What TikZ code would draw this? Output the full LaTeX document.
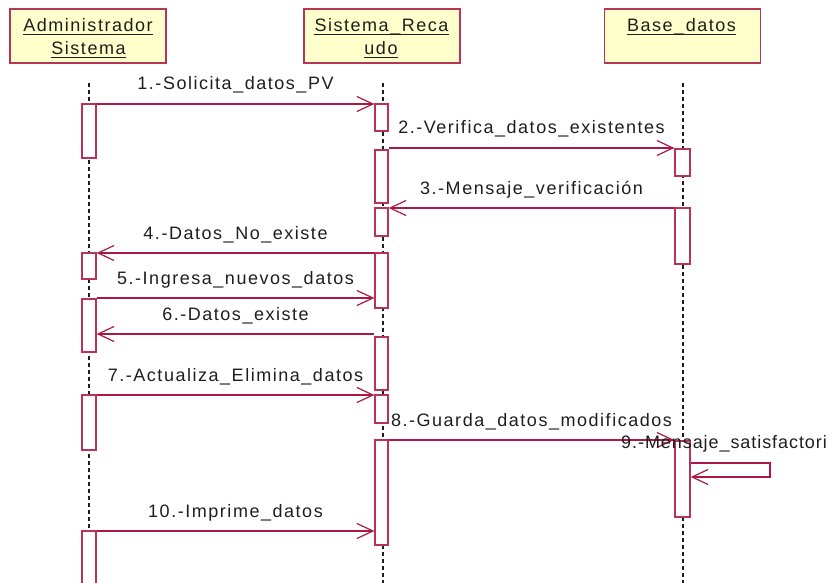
\documentclass[tikz,border=0pt]{standalone}
\usepackage{fontspec}
\setmainfont{Liberation Sans}[LetterSpace=8.5]
\usetikzlibrary{arrows.meta}
\definecolor{umlred}{RGB}{170,25,70}
\definecolor{boxred}{RGB}{185,50,90}
\definecolor{headfill}{RGB}{255,255,204}
\definecolor{inkc}{RGB}{30,30,30}
\begin{document}
\begin{tikzpicture}[x=1pt,y=-1pt,
  every node/.style={font=\fontsize{18}{21}\selectfont, text=inkc},
  headbox/.style={draw=boxred, line width=1.6pt, fill=headfill,
    minimum width=156pt, minimum height=54pt, inner sep=0pt},
  hdtext/.style={anchor=base, inner sep=0pt},
  ul/.style={draw=inkc, line width=1.2pt},
  life/.style={draw=inkc, line width=1.3pt, dash pattern=on 4pt off 3pt},
  actbox/.style={draw=boxred, line width=1.3pt, fill=white, inner sep=0pt},
  actA/.style={actbox, minimum width=14pt},
  actS/.style={actbox, minimum width=13pt},
  actB/.style={actbox, minimum width=15pt},
  msg/.style={draw=umlred, line width=1.2pt,
    -{Straight Barb[length=16pt, width=15pt, line width=1.2pt]}},
  lbl/.style={anchor=base, yshift=14pt, inner sep=0pt}]

\useasboundingbox (0,0) rectangle (833,583);
\clip (0,0) rectangle (833,583);

% participants
\node[headbox] (admin) at (88,36) {};
\node[headbox] (sist)  at (382,36) {};
\node[headbox] (base)  at (682.5,36) {};

\node[hdtext] (adminL1) at (88,32) {Administrador\ };
\node[hdtext] (adminL2) at (88.5,55) {Sistema};
\node[hdtext] (sistL1)  at (381.5,32) {Sistema\_Reca};
\node[hdtext] (sistL2)  at (381,55) {udo};
\node[hdtext] (baseL1)  at (681.5,32) {Base\_datos};

\foreach \t in {adminL1,adminL2,sistL1,sistL2,baseL1}
  \draw[ul] ([yshift=-2.5pt]\t.base west) -- ([yshift=-2.5pt]\t.base east);

% lifelines
\coordinate (lifeAtop) at (89,83);   \coordinate (lifeAbot) at (89,583);
\coordinate (lifeStop) at (383,83);  \coordinate (lifeSbot) at (383,583);
\coordinate (lifeBtop) at (683,83);  \coordinate (lifeBbot) at (683,583);
\draw[life] (lifeAtop) -- (lifeAbot);
\draw[life] (lifeStop) -- (lifeSbot);
\draw[life] (lifeBtop) -- (lifeBbot);

% activation bars
\node[actA, minimum height=54pt] (a1) at (89,131) {};
\node[actA, minimum height=26pt] (a2) at (89,266) {};
\node[actA, minimum height=53pt] (a3) at (89,325.5) {};
\node[actA, minimum height=55pt] (a4) at (89,422.5) {};
\node[actA, minimum height=69pt] (a5) at (89,565.5) {};

\node[actS, minimum height=27pt]  (s1) at (381.5,117.5) {};
\node[actS, minimum height=53pt]  (s2) at (381.5,176.5) {};
\node[actS, minimum height=28pt]  (s3) at (381.5,222) {};
\node[actS, minimum height=55pt]  (s4) at (381.5,280.5) {};
\node[actS, minimum height=53pt]  (s5) at (381.5,363.5) {};
\node[actS, minimum height=28pt]  (s6) at (381.5,409) {};
\node[actS, minimum height=105pt] (s7) at (381.5,492.5) {};

\node[actB, minimum height=27pt] (b1) at (682.5,162.5) {};
\node[actB, minimum height=56pt] (b2) at (682.5,236) {};
\node[actB, minimum height=76pt] (b3) at (682.5,479) {};

% messages
\draw[msg] (a1.east |- 0,104) -- node[lbl] {1.-Solicita\_datos\_PV} (s1.west |- 0,104);
\draw[msg] (s2.east |- 0,148) -- node[lbl] {2.-Verifica\_datos\_existentes} (b1.west |- 0,148);
\draw[msg] (b2.west |- 0,208) -- node[lbl] {3.-Mensaje\_verificación} (s3.east |- 0,208);
\draw[msg] (s4.west |- 0,253) -- node[lbl] {4.-Datos\_No\_existe} (a2.east |- 0,253);
\draw[msg] (a3.east |- 0,298) -- node[lbl] {5.-Ingresa\_nuevos\_datos} (s4.west |- 0,298);
\draw[msg] (s5.west |- 0,334) -- node[lbl] {6.-Datos\_existe} (a3.east |- 0,334);
\draw[msg] (a4.east |- 0,395) -- node[lbl] {7.-Actualiza\_Elimina\_datos} (s6.west |- 0,395);
\draw[msg] (s7.east |- 0,440) -- node[lbl] {8.-Guarda\_datos\_modificados} (b3.west |- 0,440);

% self call on the database
\coordinate (selfR1) at (770,463);
\coordinate (selfR2) at (770,477);
\draw[msg] (b3.east |- 0,463) -- (selfR1) -- (selfR2) -- (b3.east |- 0,477);
\node[anchor=base west, inner sep=0pt,
  font=\fontsize{18}{21}\selectfont\addfontfeature{LetterSpace=5.2}]
  (lbl9) at (621,448) {9.-Mensaje\_satisfactori};

\draw[msg] (a5.east |- 0,531) -- node[lbl] {10.-Imprime\_datos} (s7.west |- 0,531);
\end{tikzpicture}
\end{document}
